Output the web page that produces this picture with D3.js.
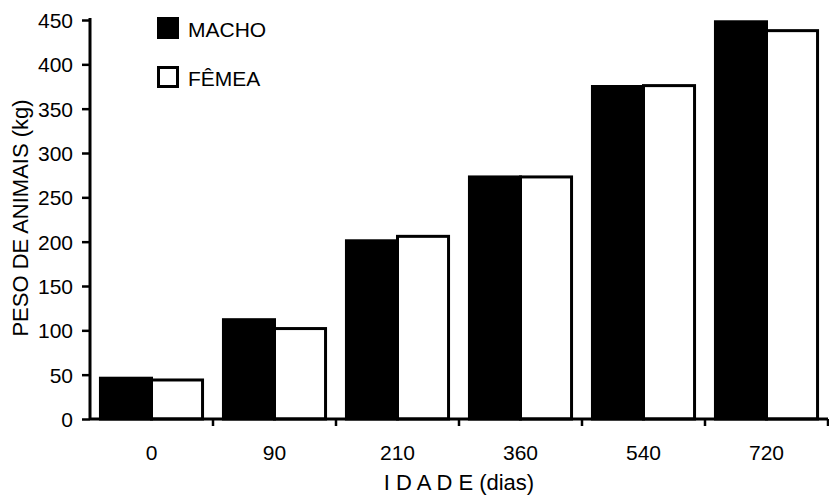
<!DOCTYPE html>
<html>
<head>
<meta charset="utf-8">
<script src="https://cdn.jsdelivr.net/npm/d3@7"></script>
<style>
  body { margin: 0; background: #fff; }
  text { font-family: Arial, "Liberation Sans", sans-serif; fill: #000; }
</style>
</head>
<body>
<div id="chart"></div>
<script>
// data
var idades = ["0", "90", "210", "360", "540", "720"];
var macho = [46, 112, 201, 273, 375, 448];
var femea = [44, 102, 206, 273, 376, 438];
var series = ["MACHO", "FÊMEA"];
var yTicks = [0, 50, 100, 150, 200, 250, 300, 350, 400, 450];

var svgWidth = 829;
var svgHeight = 498;
var margin = { top: 20, right: 1, bottom: 79, left: 90 };
var width = svgWidth - margin.left - margin.right;
var height = svgHeight - margin.top - margin.bottom;
var fontSize = 21;

var svg = d3.select("#chart")
    .append("svg")
    .attr("width", svgWidth)
    .attr("height", svgHeight);

var g = svg.append("g")
    .attr("transform", `translate(${margin.left},${margin.top})`);

// scales
var xScale = d3.scaleBand()
    .domain(idades)
    .range([0, width])
    .paddingInner(0.17)
    .paddingOuter(0.085);

var xSub = d3.scaleBand()
    .domain(series)
    .range([0, xScale.bandwidth()]);

var yScale = d3.scaleLinear()
    .domain([0, 450])
    .range([height, 0]);

var rows = idades.map(function(d, i) {
    return { idade: d, values: [
        { key: "MACHO", value: macho[i] },
        { key: "FÊMEA", value: femea[i] }
    ]};
});

// bars
var groups = g.selectAll(".grp")
    .data(rows)
    .enter().append("g")
    .attr("class", "grp")
    .attr("transform", function(d) { return `translate(${xScale(d.idade)},0)`; });

groups.selectAll("rect")
    .data(function(d) { return d.values; })
    .enter().append("rect")
    .attr("x", function(d) { return xSub(d.key); })
    .attr("y", function(d) { return yScale(d.value); })
    .attr("width", xSub.bandwidth())
    .attr("height", function(d) { return height - yScale(d.value); })
    .attr("fill", function(d) { return d.key === "MACHO" ? "#000" : "#fff"; })
    .attr("stroke", "#000")
    .attr("stroke-width", 3);

// y axis
var yAxis = d3.axisLeft(yScale).tickValues(yTicks).tickSize(8).tickPadding(9);
var yG = g.append("g").call(yAxis);
yG.select(".domain").attr("stroke-width", 3).attr("d", `M0,${height}V-2`);
yG.selectAll(".tick line").attr("stroke-width", 2.5);
yG.selectAll(".tick text").attr("font-size", fontSize).attr("dy", "0.35em");

// x axis, ticks sit on the category edges
var xEdges = idades.map(function(d) { return xScale(d) - xScale.step() * xScale.paddingInner() / 2; });
g.append("line")
    .attr("x1", 0).attr("x2", width)
    .attr("y1", height).attr("y2", height)
    .attr("stroke", "#000").attr("stroke-width", 3);

g.selectAll(".xtick")
    .data(xEdges.slice(1).concat([width]))
    .enter().append("line")
    .attr("x1", function(d) { return d; })
    .attr("x2", function(d) { return d; })
    .attr("y1", height)
    .attr("y2", height + 7)
    .attr("stroke", "#000").attr("stroke-width", 2.5);

g.selectAll(".xlabel")
    .data(idades)
    .enter().append("text")
    .attr("x", function(d) { return xScale(d) + xScale.bandwidth() / 2; })
    .attr("y", height + 41)
    .attr("text-anchor", "middle")
    .attr("font-size", fontSize)
    .text(function(d) { return d; });

// axis titles
svg.append("text")
    .attr("x", margin.left + width / 2)
    .attr("y", 490)
    .attr("text-anchor", "middle")
    .attr("font-size", 22)
    .text("I D A D E (dias)");

svg.append("text")
    .attr("transform", "translate(28,218) rotate(-90)")
    .attr("text-anchor", "middle")
    .attr("font-size", 22)
    .text("PESO DE ANIMAIS (kg)");

// legend
var legend = svg.append("g").attr("transform", "translate(157,17)");
series.forEach(function(s, i) {
    legend.append("rect")
        .attr("x", 1.5).attr("y", i * 49 + 1.5)
        .attr("width", 19).attr("height", 19)
        .attr("fill", s === "MACHO" ? "#000" : "#fff")
        .attr("stroke", "#000").attr("stroke-width", 3);
    legend.append("text")
        .attr("x", 31).attr("y", i * 49 + 20)
        .attr("font-size", fontSize)
        .text(s);
});
</script>
</body>
</html>
